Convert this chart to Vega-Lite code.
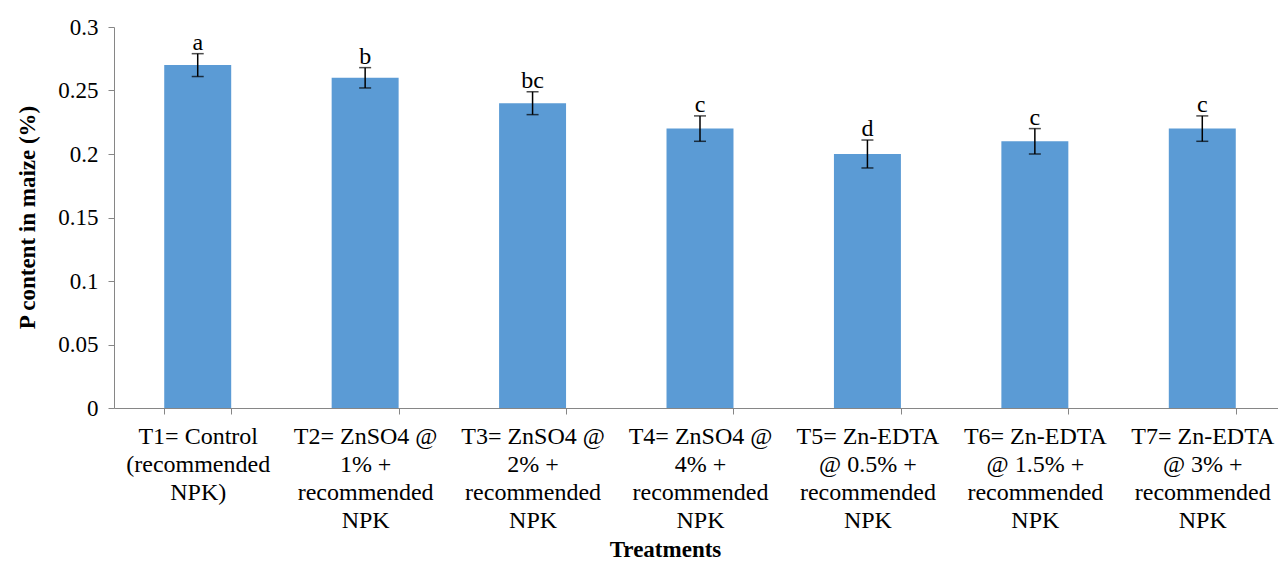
{
  "$schema": "https://vega.github.io/schema/vega-lite/v6.json",
  "width": 1164,
  "height": 381,
  "autosize": {"type": "none"},
  "padding": {"left": 114, "top": 27, "right": 0, "bottom": 153},
  "background": "white",
  "config": {
    "view": {"stroke": null},
    "font": "Times New Roman, Liberation Serif, DejaVu Serif, serif",
    "text": {"font": "Times New Roman, Liberation Serif, DejaVu Serif, serif"},
    "axis": {"labelFont": "Times New Roman, Liberation Serif, DejaVu Serif, serif", "titleFont": "Times New Roman, Liberation Serif, DejaVu Serif, serif", "labelColor": "black", "titleColor": "black", "domainColor": "#868686", "tickColor": "#868686", "grid": false}
  },
  "data": {
    "values": [
      {"treatment": "T1= Control|(recommended|NPK)", "value": 0.27, "err": 0.009, "letter": "a"},
      {"treatment": "T2= ZnSO4 @|1% +|recommended|NPK", "value": 0.26, "err": 0.008, "letter": "b"},
      {"treatment": "T3= ZnSO4 @|2% +|recommended|NPK", "value": 0.24, "err": 0.009, "letter": "bc"},
      {"treatment": "T4= ZnSO4 @|4% +|recommended|NPK", "value": 0.22, "err": 0.01, "letter": "c"},
      {"treatment": "T5= Zn-EDTA|@ 0.5% +|recommended|NPK", "value": 0.2, "err": 0.011, "letter": "d"},
      {"treatment": "T6= Zn-EDTA|@ 1.5% +|recommended|NPK", "value": 0.21, "err": 0.01, "letter": "c"},
      {"treatment": "T7= Zn-EDTA|@ 3% +|recommended|NPK", "value": 0.22, "err": 0.01, "letter": "c"}
    ]
  },
  "transform": [
    {"calculate": "datum.value - datum.err", "as": "lo"},
    {"calculate": "datum.value + datum.err", "as": "hi"}
  ],
  "encoding": {
    "x": {
      "field": "treatment", "type": "nominal", "sort": null,
      "scale": {"paddingInner": 0.6, "paddingOuter": 0.3, "range": [0, 1172]},
      "axis": {
        "title": "Treatments", "titleFontSize": 23, "titleFontWeight": "bold",
        "titleX": 551, "titleY": 141, "titleBaseline": "middle", "titleAnchor": "middle", "titleAlign": "center",
        "labelExpr": "split(datum.label, '|')", "labelAngle": 0, "labelFontSize": 24, "labelLineHeight": 28,
        "labelBaseline": "top", "labelPadding": 10, "labelLimit": 400,
        "tickBand": "extent", "tickSize": 6, "labelAlign": "center"
      }
    }
  },
  "layer": [
    {
      "mark": {"type": "bar", "color": "#5B9BD5"},
      "encoding": {
        "y": {
          "field": "value", "type": "quantitative",
          "scale": {"domain": [0, 0.3], "nice": false},
          "axis": {
            "title": "P content in maize (%)", "titleFontSize": 23, "titleFontWeight": "bold",
            "titleX": -87, "titleY": 190, "titleAngle": -90, "titleBaseline": "middle", "titleAlign": "center",
            "values": [0, 0.05, 0.1, 0.15, 0.2, 0.25, 0.3], "format": "~g",
            "labelFontSize": 23, "labelPadding": 10, "tickSize": 6
          }
        }
      }
    },
    {
      "mark": {"type": "rule", "color": "black", "strokeWidth": 1.5},
      "encoding": {"y": {"field": "lo", "type": "quantitative"}, "y2": {"field": "hi"}}
    },
    {
      "mark": {"type": "tick", "color": "black", "size": 12, "thickness": 1.5, "orient": "horizontal"},
      "encoding": {"y": {"field": "lo", "type": "quantitative"}}
    },
    {
      "mark": {"type": "tick", "color": "black", "size": 12, "thickness": 1.5, "orient": "horizontal"},
      "encoding": {"y": {"field": "hi", "type": "quantitative"}}
    },
    {
      "mark": {"type": "text", "fontSize": 24, "baseline": "alphabetic", "dy": -4, "color": "black"},
      "encoding": {"y": {"field": "hi", "type": "quantitative"}, "text": {"field": "letter"}}
    }
  ]
}
